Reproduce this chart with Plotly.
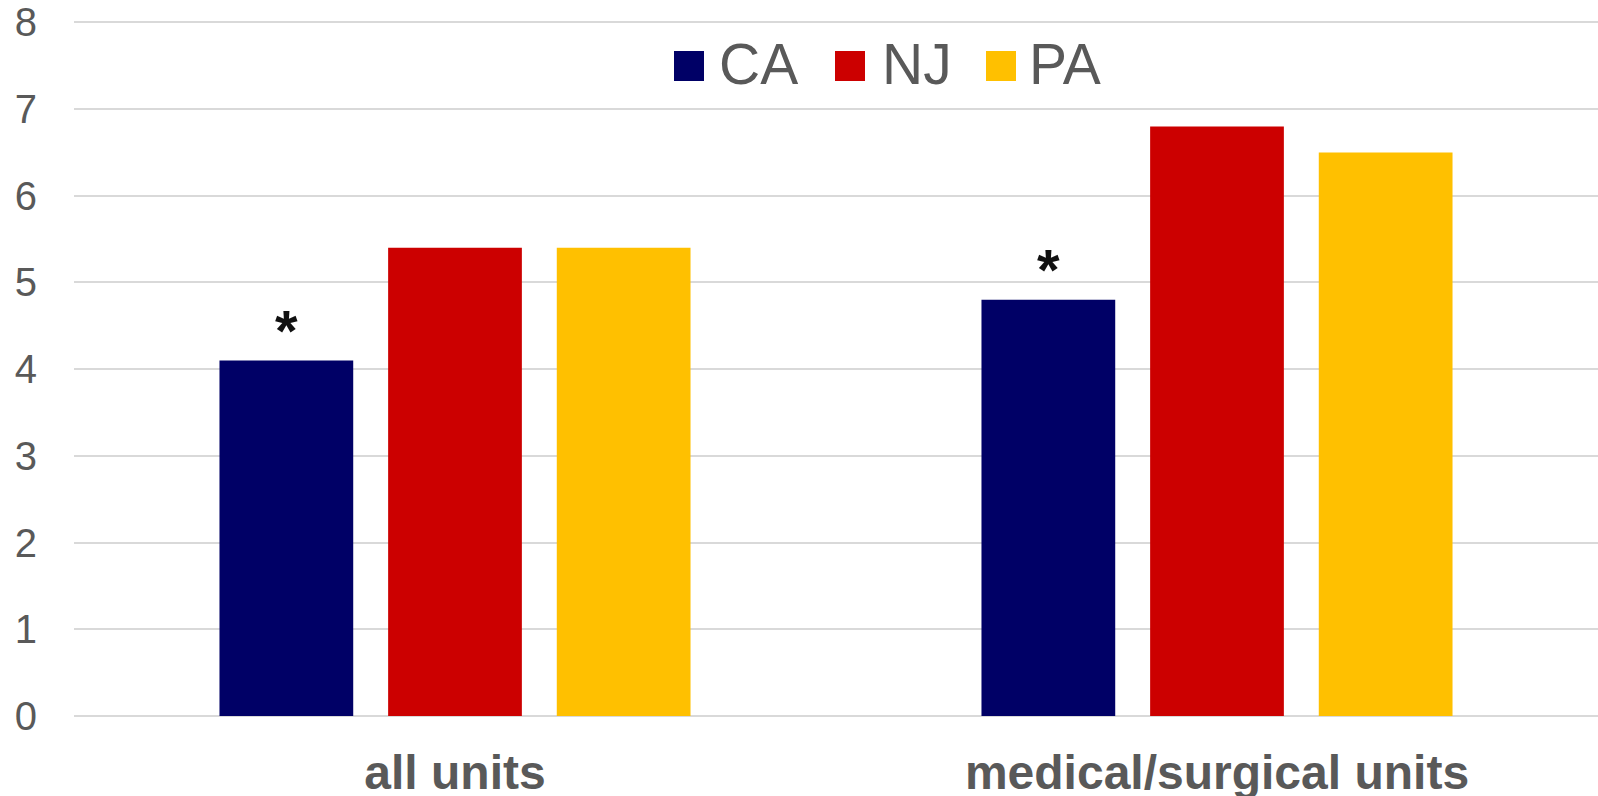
import plotly.graph_objects as go

# Unit groups and state series
categories = ["all units", "medical/surgical units"]
states = ["CA", "NJ", "PA"]
ca_values = [4.1, 4.8]
nj_values = [5.4, 6.8]
pa_values = [5.4, 6.5]
ca_marks = ["*", "*"]  # significance markers above the CA bars
y_ticks = [0, 1, 2, 3, 4, 5, 6, 7, 8]

colors = {"CA": "#000066", "NJ": "#CC0000", "PA": "#FFC000"}
series = {"CA": ca_values, "NJ": nj_values, "PA": pa_values}

W, H = 1598, 796
L, R, T, B = 74, 0, 18, 80
FONT = "Liberation Sans, Arial, sans-serif"
GREY = "#595959"
BARGAP, GROUPGAP = 0.336, 0.207

fig = go.Figure()
for s in states:
    fig.add_trace(go.Bar(
        x=categories, y=series[s], name=s,
        marker=dict(color=colors[s], line=dict(width=0)),
        showlegend=False))


def px_x(p):
    return (p - L) / (W - L - R)


def px_y(p):
    return (H - B - p) / (H - T - B)


# Legend drawn as swatches plus labels
legend_pos = {"CA": (674, 720), "NJ": (835, 883), "PA": (986, 1030)}
shapes, annotations = [], []
for s in states:
    sq, tx = legend_pos[s]
    shapes.append(dict(type="rect", xref="paper", yref="paper",
                       x0=px_x(sq), x1=px_x(sq + 30), y0=px_y(81), y1=px_y(51),
                       fillcolor=colors[s], line=dict(width=0)))
    annotations.append(dict(text=s, xref="paper", yref="paper",
                            x=px_x(tx - 3), y=px_y(64), xanchor="left", yanchor="middle",
                            showarrow=False, font=dict(family=FONT, size=57, color=GREY)))

# Significance markers centred over the first bar of each group
slot = (1 - BARGAP) / len(states)
for i, (v, m) in enumerate(zip(ca_values, ca_marks)):
    annotations.append(dict(text=m, xref="x", yref="y", x=i - slot, y=v,
                            xanchor="center", yanchor="bottom", yshift=-4,
                            showarrow=False,
                            font=dict(family=FONT, size=58, color="#111111", weight="bold")))

fig.update_layout(
    width=W, height=H,
    margin=dict(l=L, r=R, t=T, b=B, pad=0),
    paper_bgcolor="white", plot_bgcolor="white",
    barmode="group", bargap=BARGAP, bargroupgap=GROUPGAP,
    shapes=shapes, annotations=annotations,
    xaxis=dict(tickfont=dict(family=FONT, size=48, color=GREY, weight="bold"),
               showgrid=False, showline=False, ticks="", ticklabelstandoff=24,
               automargin=False),
    yaxis=dict(range=[0, 8.05], tickvals=y_ticks, tickfont=dict(family=FONT, size=40, color=GREY),
               gridcolor="#d9d9d9", gridwidth=1.5, zeroline=True, zerolinecolor="#d9d9d9",
               zerolinewidth=1.5, showline=False, ticks="", ticklabelstandoff=36,
               automargin=False),
    showlegend=False,
)

fig.write_html("out.html")
